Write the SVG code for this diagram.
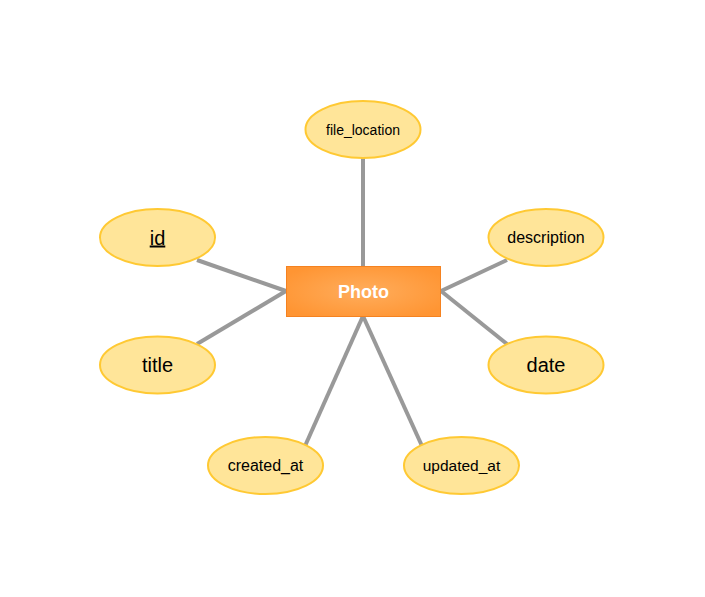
<svg xmlns="http://www.w3.org/2000/svg" width="705" height="597" viewBox="0 0 705 597">
<style>
.attr ellipse{fill:#ffe599;stroke:#ffc933;stroke-width:2}
.attr text{font-family:"Liberation Sans",Arial,sans-serif;fill:#000;text-anchor:middle}
.conn line{stroke:#999;stroke-width:4}
</style>
<defs>
<radialGradient id="g" cx="0.5" cy="0.5" r="0.6">
<stop offset="0" stop-color="#ffad5c"/>
<stop offset="1" stop-color="#ff9533"/>
</radialGradient>
</defs>
<rect width="705" height="597" fill="#fff"/>
<g class="conn">
<line x1="363" y1="158" x2="363" y2="266"/>
<line x1="197" y1="260" x2="286" y2="291"/>
<line x1="197" y1="344" x2="286" y2="291"/>
<line x1="507" y1="260" x2="441" y2="291"/>
<line x1="507" y1="344" x2="441" y2="291"/>
<line x1="305" y1="446" x2="363" y2="316"/>
<line x1="422" y1="446" x2="363" y2="316"/>
</g>
<g id="photo">
<rect x="286.5" y="266.5" width="154" height="50" fill="url(#g)" stroke="#f58220" stroke-width="1"/>
<text x="363.5" y="298" font-family="Liberation Sans,Arial,sans-serif" font-size="18" font-weight="bold" fill="#fff" text-anchor="middle">Photo</text>
</g>
<g id="file_location" class="attr">
<ellipse cx="363" cy="129.5" rx="57.5" ry="28.5"/>
<text x="363" y="134.5" font-size="14">file_location</text>
</g>
<g id="id" class="attr">
<ellipse cx="157.5" cy="237.5" rx="57.5" ry="28.5"/>
<text x="157.5" y="244.5" font-size="20" text-decoration="underline">id</text>
</g>
<g id="title" class="attr">
<ellipse cx="157.5" cy="365" rx="57.5" ry="28.5"/>
<text x="157.5" y="372" font-size="20">title</text>
</g>
<g id="description" class="attr">
<ellipse cx="546" cy="237.5" rx="57.5" ry="28.5"/>
<text x="546" y="243" font-size="16">description</text>
</g>
<g id="date" class="attr">
<ellipse cx="546" cy="365" rx="57.5" ry="28.5"/>
<text x="546" y="372" font-size="20">date</text>
</g>
<g id="created_at" class="attr">
<ellipse cx="265.5" cy="465.5" rx="57.5" ry="28.5"/>
<text x="265.5" y="471" font-size="16">created_at</text>
</g>
<g id="updated_at" class="attr">
<ellipse cx="461.5" cy="465.5" rx="57.5" ry="28.5"/>
<text x="461.5" y="471" font-size="15.5">updated_at</text>
</g>
</svg>
